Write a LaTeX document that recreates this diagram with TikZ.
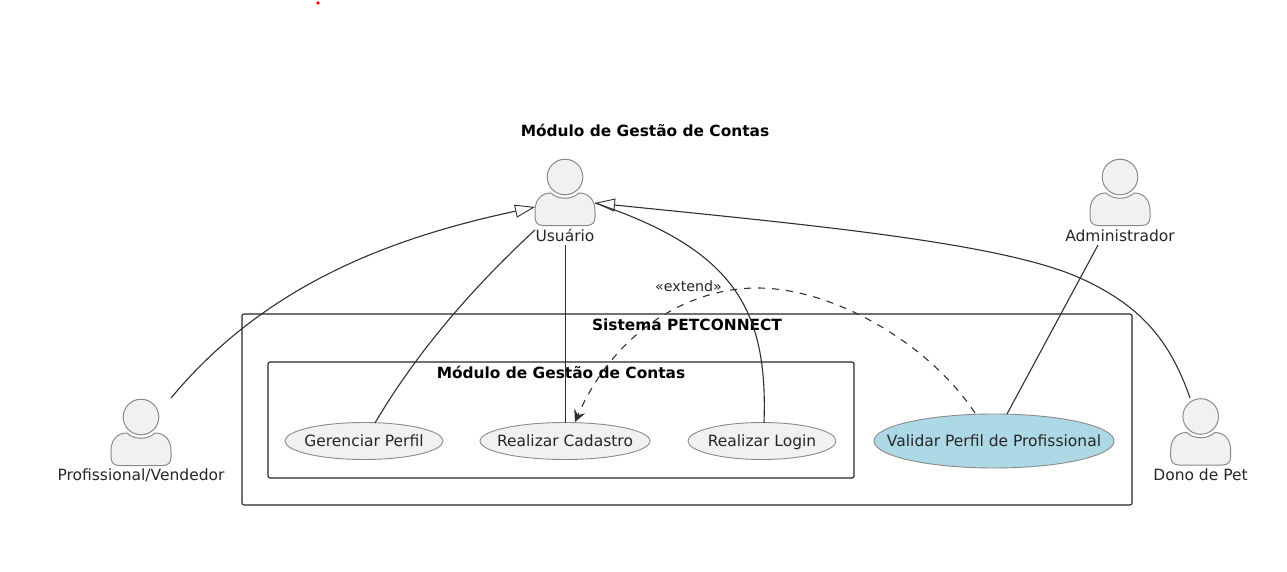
\documentclass[tikz,border=0pt]{standalone}
\usepackage{fontspec}
\setmainfont{DejaVu Sans}
\usetikzlibrary{arrows.meta}
\definecolor{fillgray}{HTML}{F1F1F1}
\definecolor{edgegray}{HTML}{8A8A8A}
\definecolor{linecol}{HTML}{303030}
\definecolor{bluefill}{HTML}{ADD8E6}
\tikzset{
  x=1pt,y=-1pt,
  lbl/.style={font=\fontsize{15.5}{18}\selectfont,text=black!85,inner sep=0pt,anchor=base},
  ttl/.style={font=\fontsize{15.4}{18}\bfseries\selectfont,text=black,inner sep=0pt},
  usecase/.style={draw=edgegray,fill=fillgray,line width=.9pt},
  frame/.style={draw=black!85,line width=1.1pt,rounded corners=2pt},
  conn/.style={draw=linecol,line width=1.1pt},
  gen/.style={conn,-{Triangle[open,fill=white,length=20pt,width=13pt,line width=.9pt]}},
  dep/.style={conn,dash pattern=on 7pt off 7pt,-{Stealth[length=12pt,width=12pt,inset=4.5pt]}},
  person/.pic={
    \draw[draw=edgegray,fill=fillgray,line width=1pt] (0,-20) circle[radius=17.8];
    \draw[draw=edgegray,fill=fillgray,line width=1pt]
      (-30,20) -- (-30,14) .. controls (-30,3) and (-24,-4) .. (-14,-4)
      .. controls (-7,3) and (7,3) .. (14,-4) .. controls (24,-4) and (30,3) .. (30,14)
      -- (30,20) .. controls (30,25.5) and (27,28.5) .. (22,28.5) -- (-22,28.5) .. controls (-27,28.5) and (-30,25.5) .. (-30,20) -- cycle;
  }
}
\begin{document}
\begin{tikzpicture}
\useasboundingbox (0,0) rectangle (1287,572);
\fill[red] (318,3) circle[radius=1.8];
\node[ttl] (title) at (645,130.5) {Módulo de Gestão de Contas};
\draw[frame] (242,314) rectangle (1132,505);
\node[ttl] (sysl) at (687,324.5) {Sistema PETCONNECT};
\draw[frame] (268,362) rectangle (854,478);
\node[ttl] (modl) at (561,372.5) {Módulo de Gestão de Contas};

\pic at (565,197) {person};
\pic at (1120,197) {person};
\pic at (141,437) {person};
\pic at (1200.7,436.5) {person};
\node[lbl] (usuario) at (565,241.5) {Usuário};
\node[lbl] (admin) at (1120,241.5) {Administrador};
\node[lbl] (prof) at (141,480) {Profissional/Vendedor};
\node[lbl] (dono) at (1200.5,480) {Dono de Pet};

\draw[usecase] (364,441) ellipse[x radius=79,y radius=18.5];
\draw[usecase] (565,441) ellipse[x radius=85,y radius=18.5];
\draw[usecase] (762,441) ellipse[x radius=74,y radius=18.5];
\draw[usecase,fill=bluefill] (994,441) ellipse[x radius=120,y radius=27];
\node[lbl] (ger) at (364,446.5) {Gerenciar Perfil};
\node[lbl] (cad) at (565,446.5) {Realizar Cadastro};
\node[lbl] (log) at (762,446.5) {Realizar Login};
\node[lbl] (val) at (994,446.5) {Validar Perfil de Profissional};
\node[lbl,font=\fontsize{14.2}{16}\selectfont] (ext) at (688.5,291) {«extend»};

\coordinate (uL) at (535,207);
\coordinate (uR) at (595,203);
\coordinate (uB) at (535,230);
\coordinate (uC) at (565.5,245);
\coordinate (pT) at (171,398);
\coordinate (dT) at (1190,398);
\coordinate (aB) at (1098,245);
\coordinate (gT) at (375,423);
\coordinate (cT) at (565.5,423);
\coordinate (lT) at (764,423);
\coordinate (vA) at (1007,414);
\coordinate (vD) at (975,413);
\coordinate (cA) at (575,422);
\coordinate (dM) at (1080,278);
\coordinate (eM) at (757,288);

\draw[gen] (pT) .. controls (265,285) and (390,238) .. (uL);
\draw[gen] (dT) .. controls (1170,340) and (1140,305) .. (dM) .. controls (1000,242) and (800,224) .. (uR);
\draw[conn] (gT) .. controls (415,355) and (470,290) .. (uB);
\draw[conn] (uC) -- (cT);
\draw[conn] (lT) .. controls (768,310) and (735,250) .. (uR);
\draw[conn] (aB) -- (vA);
\draw[dep] (vD) .. controls (930,345) and (835,288) .. (eM) .. controls (690,288) and (615,330) .. (cA);
\end{tikzpicture}
\end{document}
